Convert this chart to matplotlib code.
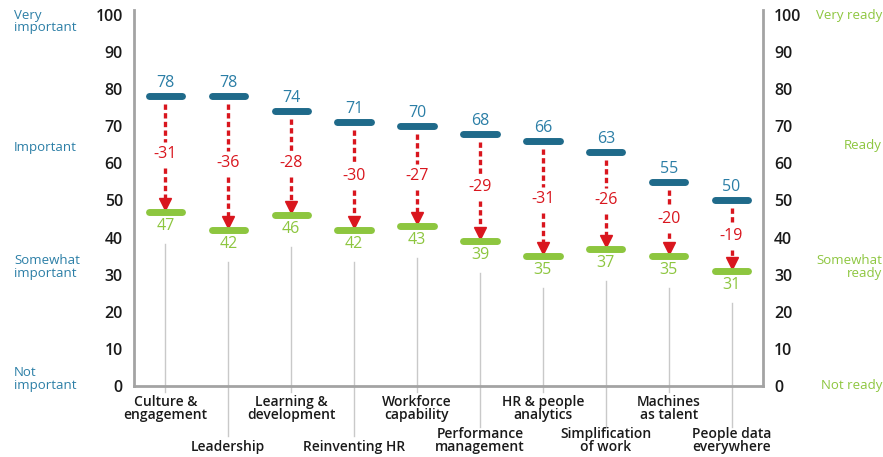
import numpy as np
import matplotlib
matplotlib.use("Agg")
import matplotlib.pyplot as plt

plt.rcParams['font.family'] = ['Open Sans', 'DejaVu Sans']

categories = ['Culture &\nengagement', 'Leadership', 'Learning &\ndevelopment',
              'Reinventing HR', 'Workforce\ncapability', 'Performance\nmanagement',
              'HR & people\nanalytics', 'Simplification\nof work', 'Machines\nas talent',
              'People data\neverywhere']
importance = [78, 78, 74, 71, 70, 68, 66, 63, 55, 50]
readiness = [47, 42, 46, 42, 43, 39, 35, 37, 35, 31]
gaps = [-31, -36, -28, -30, -27, -29, -31, -26, -20, -19]

left_levels = ['Very\nimportant', 'Important', 'Somewhat\nimportant', 'Not\nimportant']
right_levels = ['Very ready', 'Ready', 'Somewhat\nready', 'Not ready']

BLUE_BAR = '#1f6a8a'
BLUE_TXT = '#2b7ea6'
GREEN = '#8dc63f'
RED = '#d9161e'
GREY = '#c9c9c9'
SPINE = '#a3a3a3'

W, H = 883, 457
fig = plt.figure(figsize=(W / 100, H / 100), dpi=100)
ax = fig.add_axes([134 / W, 1 - 386 / H, (763 - 134) / W, (386 - 10) / H])
ax.set_xlim(-0.5, len(categories) - 0.5)
ax.set_ylim(0, 101.3)

# y units per pixel, used for small offsets
upp = 101.3 / (386 - 10)

x = np.arange(len(categories))
half = 0.265
for i in x:
    top, bot, gap = importance[i], readiness[i], gaps[i]
    mid = (top + bot) / 2

    # grey leader from the readiness label down to the category name
    nlines = categories[i].count('\n') + 1
    if i % 2 == 0:
        y_end = -6 * upp
    else:
        y_end = -(436 - 386 - (9 if nlines == 2 else 0)) * upp
    ax.plot([i, i], [bot - 32 * upp, y_end], color=GREY, lw=1, clip_on=False, zorder=1)

    # dashed drop arrow with the gap in the middle
    dash = dict(color=RED, lw=2.4, linestyle=(0, (1.6, 1.0)), zorder=2)
    ax.plot([i, i], [top - 8 * upp, mid + 12 * upp], **dash)
    ax.plot([i, i], [mid - 14 * upp, bot + 10 * upp], **dash)
    ax.plot(i, bot + 8 * upp, marker='v', color=RED, markersize=9, zorder=3)
    ax.text(i, mid, f'{gap}', color=RED, fontsize=11.5, ha='center', va='center')

    # importance and readiness markers
    ax.plot([i - half, i + half], [top, top], color=BLUE_BAR, lw=5,
            solid_capstyle='round', zorder=4)
    ax.plot([i - half, i + half], [bot, bot], color=GREEN, lw=5,
            solid_capstyle='round', zorder=4)
    ax.text(i, top + 5 * upp, f'{top}', color=BLUE_TXT, fontsize=11.5,
            ha='center', va='bottom')
    ax.text(i, bot - 6 * upp, f'{bot}', color=GREEN, fontsize=11.5,
            ha='center', va='top')

    # category names, staggered on two rows
    if i % 2 == 0:
        ax.text(i, -9 * upp, categories[i], fontsize=10, ha='center', va='top',
                linespacing=0.95, color='#1a1a1a', fontweight='semibold')
    else:
        ax.text(i, -68 * upp, categories[i], fontsize=10, ha='center', va='bottom',
                linespacing=0.95, color='#1a1a1a', fontweight='semibold')

ax.set_xticks([])
ax.set_yticks(range(0, 101, 10))
ax.tick_params(axis='y', length=0, pad=8, labelsize=11.5, labelcolor='#1a1a1a',
               left=True, right=True, labelleft=True, labelright=True)
for lab in ax.get_yticklabels():
    lab.set_fontweight('semibold')

for side in ['left', 'right', 'bottom']:
    ax.spines[side].set_color(SPINE)
    ax.spines[side].set_linewidth(2)
ax.spines['top'].set_visible(False)

# qualitative scale words beside each axis
left_y = [21, 147, 267, 379]
for txt, yp in zip(left_levels, left_y):
    fig.text(14 / W, 1 - yp / H, txt, color=BLUE_TXT, fontsize=9.5,
             ha='left', va='center', linespacing=0.9, fontweight='medium')
right_y = [15, 145, 267, 386]
for txt, yp in zip(right_levels, right_y):
    fig.text(882 / W, 1 - yp / H, txt, color=GREEN, fontsize=9.5,
             ha='right', va='center', linespacing=0.9, multialignment='right',
             fontweight='medium')

fig.savefig('out.png', dpi=100)
